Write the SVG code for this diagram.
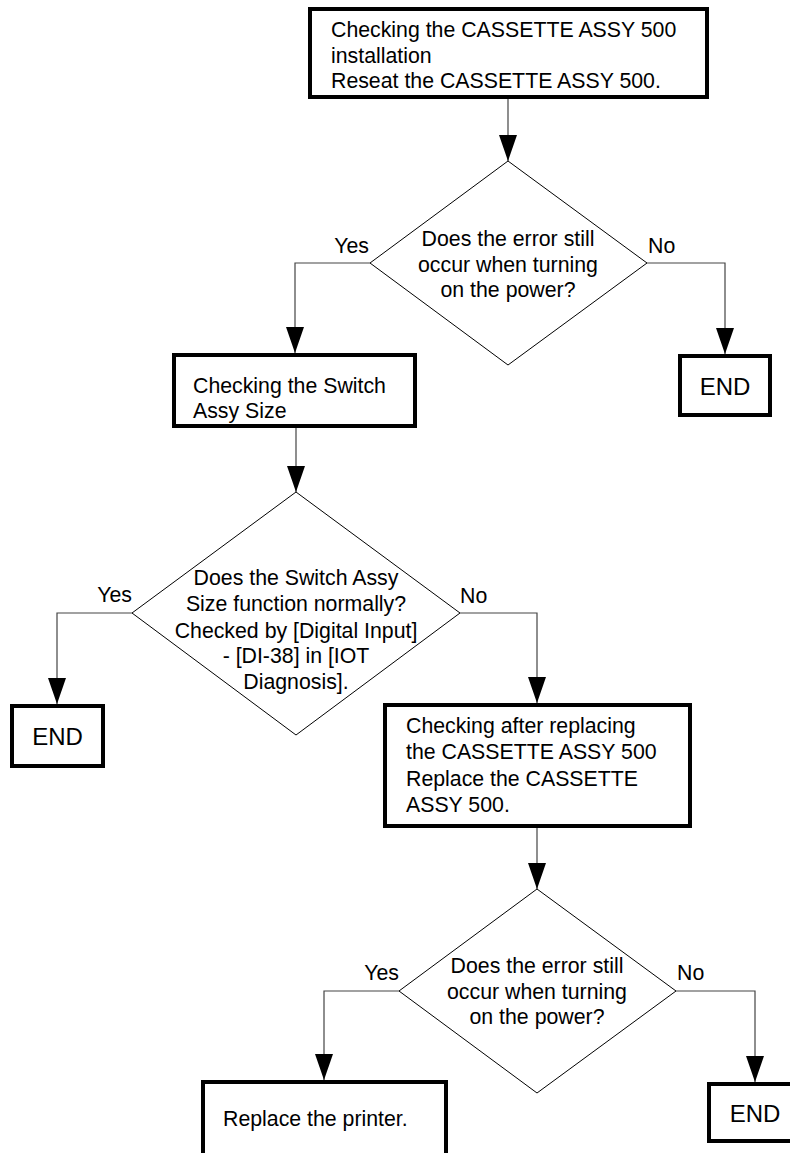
<svg xmlns="http://www.w3.org/2000/svg" width="790" height="1153" viewBox="0 0 790 1153">
<style>
.box{fill:#fff;stroke:#000;stroke-width:4}
.dia{fill:#fff;stroke:#000;stroke-width:1}
.conn{fill:none;stroke:#444;stroke-width:1.2}
text{font-family:"Liberation Sans",Arial,sans-serif;font-size:21.3px;fill:#000}
.c{text-anchor:middle}
.e{text-anchor:end}
.end{font-size:24px;text-anchor:middle}
</style>
<defs>
<marker id="arr" markerUnits="userSpaceOnUse" viewBox="0 0 26 18" refX="26" refY="9" markerWidth="26" markerHeight="18" orient="auto">
<path d="M0,0 L26,9 L0,18 z" fill="#000"/>
</marker>
</defs>
<g id="connectors">
<path class="conn" d="M508,99 L508,161" marker-end="url(#arr)"/>
<path class="conn" d="M370,263 L295,263 L295,353" marker-end="url(#arr)"/>
<path class="conn" d="M647,263 L725,263 L725,354" marker-end="url(#arr)"/>
<path class="conn" d="M296,428 L296,492" marker-end="url(#arr)"/>
<path class="conn" d="M132,613 L57,613 L57,704" marker-end="url(#arr)"/>
<path class="conn" d="M460,613 L537,613 L537,703" marker-end="url(#arr)"/>
<path class="conn" d="M537,828 L537,889" marker-end="url(#arr)"/>
<path class="conn" d="M399,991 L324,991 L324,1080" marker-end="url(#arr)"/>
<path class="conn" d="M676,991 L755,991 L755,1082" marker-end="url(#arr)"/>
<text x="369" y="253" class="e">Yes</text>
<text x="648" y="253">No</text>
<text x="132" y="602" class="e">Yes</text>
<text x="460" y="603">No</text>
<text x="399" y="980" class="e">Yes</text>
<text x="677" y="980">No</text>
</g>
<g id="n1">
<rect class="box" x="310" y="9" width="397" height="88"/>
<text x="331" y="37">Checking the CASSETTE ASSY 500</text>
<text x="331" y="62.5">installation</text>
<text x="331" y="88">Reseat the CASSETTE ASSY 500.</text>
</g>
<g id="d1">
<polygon class="dia" points="508,161 647,263 508,365 370,263"/>
<text x="508" y="246" class="c">Does the error still</text>
<text x="508" y="272" class="c">occur when turning</text>
<text x="508" y="297" class="c">on the power?</text>
</g>
<g id="n2">
<rect class="box" x="174" y="355" width="241" height="71"/>
<text x="193" y="393">Checking the Switch</text>
<text x="193" y="418">Assy Size</text>
</g>
<g id="end1">
<rect class="box" x="680" y="356" width="90" height="59"/>
<text x="725" y="395" class="end">END</text>
</g>
<g id="d2">
<polygon class="dia" points="296,492 460,613 296,735 132,613"/>
<text x="296" y="585" class="c">Does the Switch Assy</text>
<text x="296" y="611" class="c">Size function normally?</text>
<text x="296" y="638" class="c">Checked by [Digital Input]</text>
<text x="296" y="663" class="c">- [DI-38] in [IOT</text>
<text x="296" y="689" class="c">Diagnosis].</text>
</g>
<g id="end2">
<rect class="box" x="12" y="706" width="91" height="60"/>
<text x="57.5" y="745" class="end">END</text>
</g>
<g id="n3">
<rect class="box" x="385" y="705" width="305" height="121"/>
<text x="406" y="733">Checking after replacing</text>
<text x="406" y="759">the CASSETTE ASSY 500</text>
<text x="406" y="786">Replace the CASSETTE</text>
<text x="406" y="812">ASSY 500.</text>
</g>
<g id="d3">
<polygon class="dia" points="537,889 676,991 537,1093 399,991"/>
<text x="537" y="973" class="c">Does the error still</text>
<text x="537" y="999" class="c">occur when turning</text>
<text x="537" y="1024" class="c">on the power?</text>
</g>
<g id="n4">
<rect class="box" x="203" y="1082" width="243" height="90"/>
<text x="223" y="1126">Replace the printer.</text>
</g>
<g id="end3">
<rect class="box" x="709" y="1084" width="92" height="57"/>
<text x="755" y="1122" class="end">END</text>
</g>
</svg>
